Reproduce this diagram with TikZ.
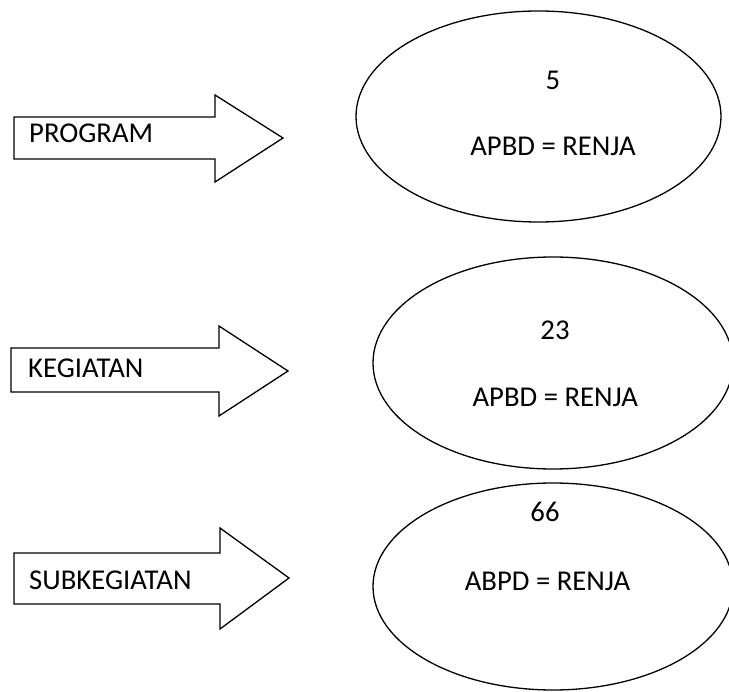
\documentclass[tikz,border=0pt]{standalone}
\usepackage{fontspec}
\setmainfont{Carlito}
\begin{document}
\begin{tikzpicture}[x=1pt,y=-1pt,
  outline/.style={draw=black,line width=1.3pt,line join=miter},
  label/.style={inner sep=0pt,font=\fontsize{28.7}{34}\selectfont},
  bubble/.style={draw=black,line width=1.3pt}]
\useasboundingbox (0,0) rectangle (729,692);
\clip (0,0) rectangle (729,692);

% block arrows
\draw[outline] (14,117) -- (215,117) -- (215,95) -- (283,138) -- (215,182)
  -- (215,159) -- (14,159) -- cycle;
\draw[outline] (11,348) -- (219,348) -- (219,326) -- (288,371) -- (219,416)
  -- (219,392) -- (11,392) -- cycle;
\draw[outline] (14,553) -- (220,553) -- (220,528) -- (289,578) -- (220,629)
  -- (220,604) -- (14,604) -- cycle;

\node[label,anchor=base west] (prog) at (29,142.5) {PROGRAM};
\node[label,anchor=base west] (keg)  at (28,378) {KEGIATAN};
\node[label,anchor=base west] (sub)  at (29,590) {SUBKEGIATAN};

% ellipses
\draw[bubble] (538.5,116.5) ellipse [x radius=182.5, y radius=105.5];
\draw[bubble] (553,363) ellipse [x radius=180, y radius=106];
\draw[bubble] (553,586.5) ellipse [x radius=180, y radius=103.5];

\node[label,anchor=base] (n1) at (553,90) {5};
\node[label,anchor=base] (e1) at (553,156) {APBD = RENJA};
\node[label,anchor=base] (n2) at (555,340) {23};
\node[label,anchor=base] (e2) at (555.3,406.7) {APBD = RENJA};
\node[label,anchor=base] (n3) at (545,522) {66};
\node[label,anchor=base] (e3) at (547.5,590.5) {ABPD = RENJA};
\end{tikzpicture}
\end{document}
